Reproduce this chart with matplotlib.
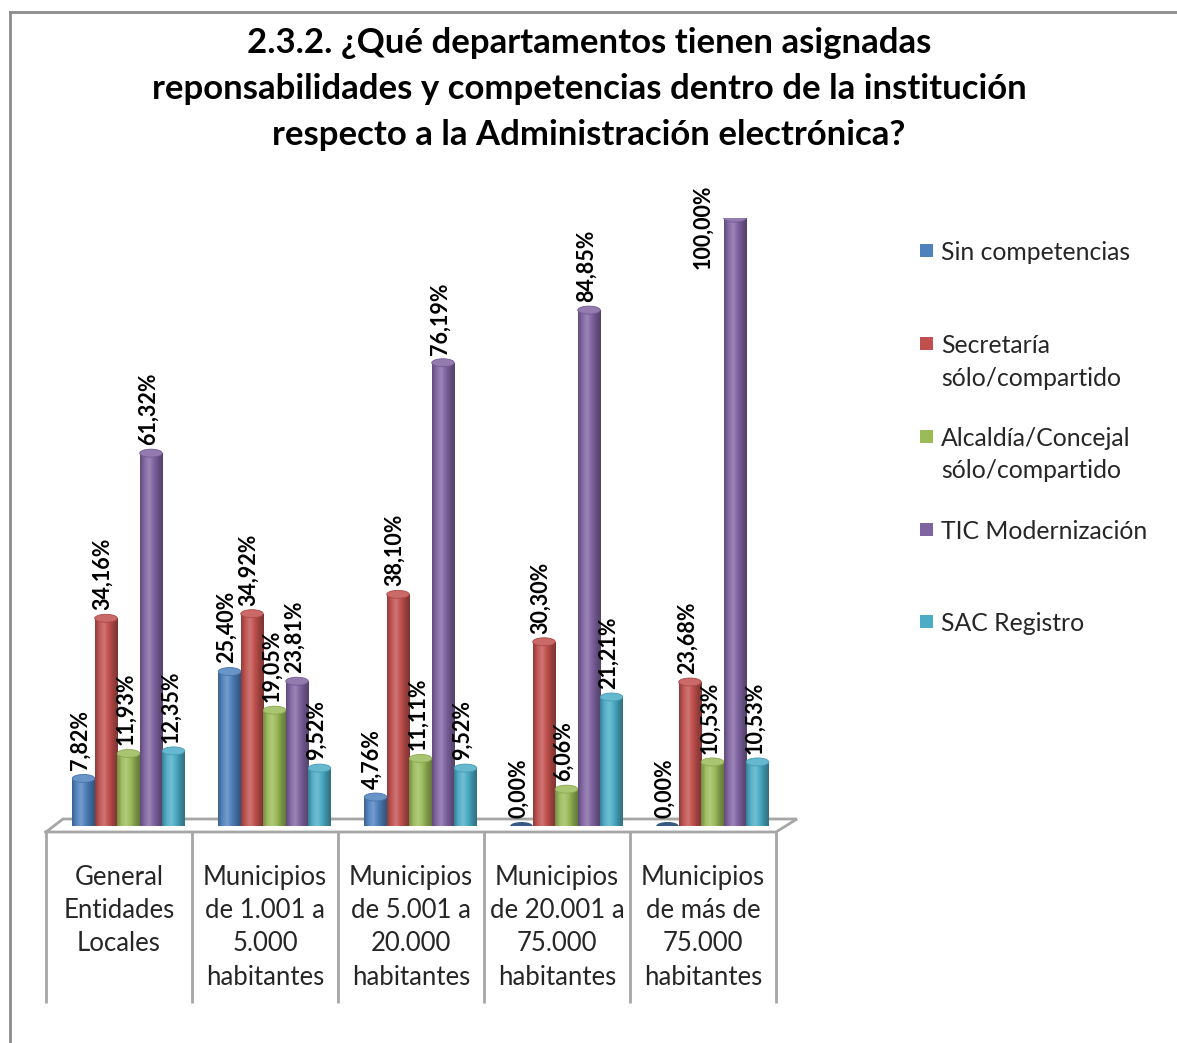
import numpy as np
import matplotlib
matplotlib.use("Agg")
import matplotlib.pyplot as plt
from matplotlib.patches import Ellipse, Rectangle
from matplotlib.lines import Line2D
from matplotlib.colors import LinearSegmentedColormap, to_rgb

plt.rcParams['font.family'] = ['Lato', 'DejaVu Sans']

title = ("2.3.2. ¿Qué departamentos tienen asignadas\n"
         "reponsabilidades y competencias dentro de la institución\n"
         "respecto a la Administración electrónica?")

categories = ["General\nEntidades\nLocales",
              "Municipios\nde 1.001 a\n5.000\nhabitantes",
              "Municipios\nde 5.001 a\n20.000\nhabitantes",
              "Municipios\nde 20.001 a\n75.000\nhabitantes",
              "Municipios\nde más de\n75.000\nhabitantes"]

series_names = ["Sin competencias",
                "Secretaría\nsólo/compartido",
                "Alcaldía/Concejal\nsólo/compartido",
                "TIC Modernización",
                "SAC Registro"]

sin_competencias = [7.82, 25.40, 4.76, 0.00, 0.00]
secretaria = [34.16, 34.92, 38.10, 30.30, 23.68]
alcaldia = [11.93, 19.05, 11.11, 6.06, 10.53]
tic = [61.32, 23.81, 76.19, 84.85, 100.00]
sac = [12.35, 9.52, 9.52, 21.21, 10.53]
series_values = [sin_competencias, secretaria, alcaldia, tic, sac]

colors = ["#4F81BD", "#C0504D", "#9BBB59", "#8064A2", "#4BACC6"]

W, H = 1177, 1043
fig = plt.figure(figsize=(W / 100, H / 100), dpi=100)

# axes placement (pixels): x 46..776, zero at y=826, 100 at y=218
ax_left, ax_right = 46, 776
y0_px, y100_px = 826, 218
ax = fig.add_axes([ax_left / W, (H - y0_px) / H,
                   (ax_right - ax_left) / W, (y0_px - y100_px) / H])
ax.set_xlim(-0.5, 4.5)
ax.set_ylim(0, 100)
ax.axis('off')

px_x = 5.0 / (ax_right - ax_left)      # data units per pixel in x
px_y = 100.0 / (y0_px - y100_px)       # data units per pixel in y

bw = 22.5 * px_x
group_shift = 9.5 * px_x
ell_h = 8 * px_y

def shade(c, f):
    r = np.array(to_rgb(c))
    if f >= 0:
        return tuple(r + (1 - r) * f)
    return tuple(r * (1 + f))

x = np.arange(len(categories))
for j, (vals, col) in enumerate(zip(series_values, colors)):
    xs = x + group_shift + (j - 2) * bw
    bars = ax.bar(xs, vals, width=bw, color=col, edgecolor='none', zorder=3)
    cmap = LinearSegmentedColormap.from_list(
        "cyl%d" % j,
        [shade(col, -0.25), shade(col, 0.05), shade(col, 0.22),
         shade(col, 0.0), shade(col, -0.2), shade(col, -0.35)])
    grad = np.linspace(0, 1, 64).reshape(1, -1)
    for b, xc, v in zip(bars, xs, vals):
        # rounded bottom
        ax.add_patch(Ellipse((xc, 0), bw, ell_h, facecolor=shade(col, -0.3),
                             edgecolor='none', zorder=2.9))
        if v > 0:
            im = ax.imshow(grad, cmap=cmap, aspect='auto',
                           extent=(xc - bw / 2, xc + bw / 2, 0, v),
                           zorder=3.1, interpolation='bilinear')
            im.set_clip_path(b)
            ax.add_patch(Ellipse((xc, v), bw, ell_h, facecolor=shade(col, 0.15),
                                 edgecolor=shade(col, -0.1), linewidth=0.6,
                                 zorder=3.3))
        lab = ("%.2f%%" % v).replace('.', ',')
        if v > 90:
            ax.text(xc - 1.45 * bw, (y0_px - 185) * px_y, lab, rotation=90,
                    ha='center', va='top', fontsize=15.5, fontweight='bold',
                    color='black', zorder=5, clip_on=False)
        else:
            ax.annotate(lab, (xc - 3 * px_x, v + ell_h / 2), xytext=(0, 3),
                        textcoords='offset points', rotation=90,
                        ha='center', va='bottom', fontsize=15.5,
                        fontweight='bold', color='black', zorder=5,
                        annotation_clip=False)

ax.set_xlim(-0.5, 4.5)
ax.set_ylim(0, 100)

# floor plate
gray = "#A6A6A6"
front_y = -6 * px_y
back_y = 7 * px_y
fl = [(-0.5, front_y), (4.5, front_y), (4.5 + 21 * px_x, back_y),
      (-0.5 + 17 * px_x, back_y), (-0.5, front_y)]
ax.plot([p[0] for p in fl], [p[1] for p in fl], color=gray, lw=2,
        clip_on=False, zorder=1, solid_joinstyle='miter')

# category boxes
bottom_y = -(1003 - y0_px) * px_y
ax.vlines(np.arange(-0.5, 5, 1), bottom_y, front_y, colors=gray, lw=2,
          clip_on=False)
for i, c in enumerate(categories):
    ax.text(i, -(865 - y0_px) * px_y, c, ha='center', va='top',
            fontsize=18.5, linespacing=1.41, color='#262626', clip_on=False)

# title
fig.text(589 / W, 1 - 89 / H, title, ha='center', va='center', fontsize=25,
         fontweight='bold', linespacing=1.55, color='black')

# legend (manual)
leg_y = [251, 344, 437, 530, 622]
for name, col, yy in zip(series_names, colors, leg_y):
    fig.add_artist(Rectangle((920 / W, 1 - (yy + 6) / H), 13 / W, 13 / H,
                             transform=fig.transFigure, facecolor=col,
                             edgecolor='none'))
    fig.text(941 / W, 1 - (yy - 10) / H, name, ha='left', va='top',
             fontsize=17.8, linespacing=1.5, color='#262626')

# chart border
fig.add_artist(Line2D([10 / W, 10 / W], [0, 1 - 12 / H], color='#8C8C8C',
                      lw=2, transform=fig.transFigure))
fig.add_artist(Line2D([10 / W, 1], [1 - 12 / H, 1 - 12 / H], color='#8C8C8C',
                      lw=2, transform=fig.transFigure))

fig.savefig("out.png", dpi=100, facecolor='white')
